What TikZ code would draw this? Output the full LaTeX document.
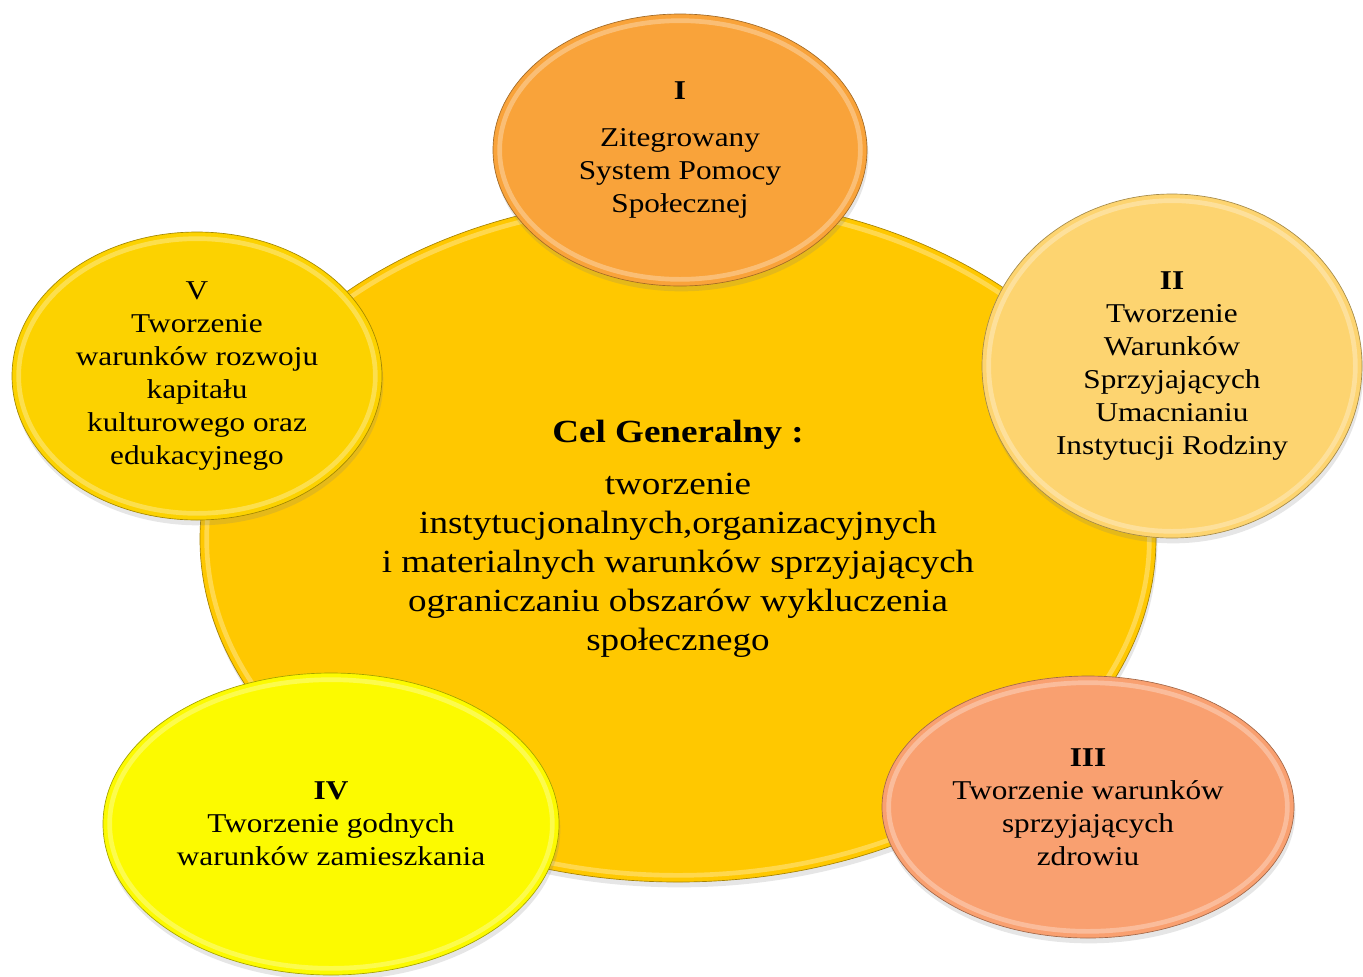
\documentclass[tikz,border=0pt]{standalone}
\usepackage{fontspec}
\setmainfont{Liberation Serif}[FakeStretch=1.15]
\usepackage{tikz}
\usetikzlibrary{shapes.geometric,shadows,calc}
\definecolor{celcol}{RGB}{255,200,0}
\definecolor{colI}{RGB}{249,163,58}
\definecolor{colII}{RGB}{253,212,112}
\definecolor{colIII}{RGB}{249,160,112}
\definecolor{colIV}{RGB}{252,250,0}
\definecolor{colV}{RGB}{252,210,0}
\tikzset{
    bubble/.style={ellipse,inner sep=0pt,align=center,fill=#1,draw=#1!65!black,line width=0.5pt,
        drop shadow={opacity=0.2,shadow xshift=1pt,shadow yshift=-4pt},
        path picture={
            \draw[white,draw opacity=0.3,line width=3.5pt]
                let \p1=(path picture bounding box.north east),\p2=(path picture bounding box.center)
                in (\p2) ellipse [x radius=\x1-\x2-5pt,y radius=\y1-\y2-5pt];
        }},
    smalltxt/.style={font=\fontsize{20.4}{24.75}\selectfont},
    bigtxt/.style={font=\fontsize{24.2}{29.25}\selectfont}
}

\begin{document}
\begin{tikzpicture}[x=0.75pt,y=-0.75pt]
  \useasboundingbox (0,0) rectangle (1363,976);

  %---------------- cel generalny ----------------
            \node[bubble=celcol,bigtxt,minimum width=717pt,minimum height=514.5pt] (cel) at (678,539)
                {\textbf{Cel Generalny :}\\[10pt]
                 tworzenie\\ instytucjonalnych,organizacyjnych\\
                 i materialnych warunków sprzyjających\\
                 ograniczaniu obszarów wykluczenia\\ społecznego};

  %---------------- I ----------------
            \node[bubble=colI,smalltxt,minimum width=280.5pt,minimum height=204pt] (c1) at (680,150)
                {\textbf{I}\\[10pt] Zitegrowany\\ System Pomocy\\ Społecznej};

  %---------------- II ----------------
            \node[bubble=colII,smalltxt,minimum width=285pt,minimum height=258pt] (c2) at (1172,366)
                {\textbf{II}\\ Tworzenie\\ Warunków\\ Sprzyjających\\ Umacnianiu\\ Instytucji Rodziny};

  %---------------- III ----------------
            \node[bubble=colIII,smalltxt,minimum width=309pt,minimum height=196.5pt] (c3) at (1088,807)
                {\textbf{III}\\ Tworzenie warunków\\ sprzyjających\\ zdrowiu};

  %---------------- IV ----------------
            \node[bubble=colIV,smalltxt,minimum width=342pt,minimum height=226.5pt] (c4) at (331,824)
                {\textbf{IV}\\ Tworzenie godnych\\ warunków zamieszkania};

  %---------------- V ----------------
            \node[bubble=colV,smalltxt,minimum width=277.5pt,minimum height=216pt] (c5) at (197,376)
                {V\\ Tworzenie\\ warunków rozwoju\\ kapitału\\ kulturowego oraz\\ edukacyjnego};

\end{tikzpicture}
\end{document}
